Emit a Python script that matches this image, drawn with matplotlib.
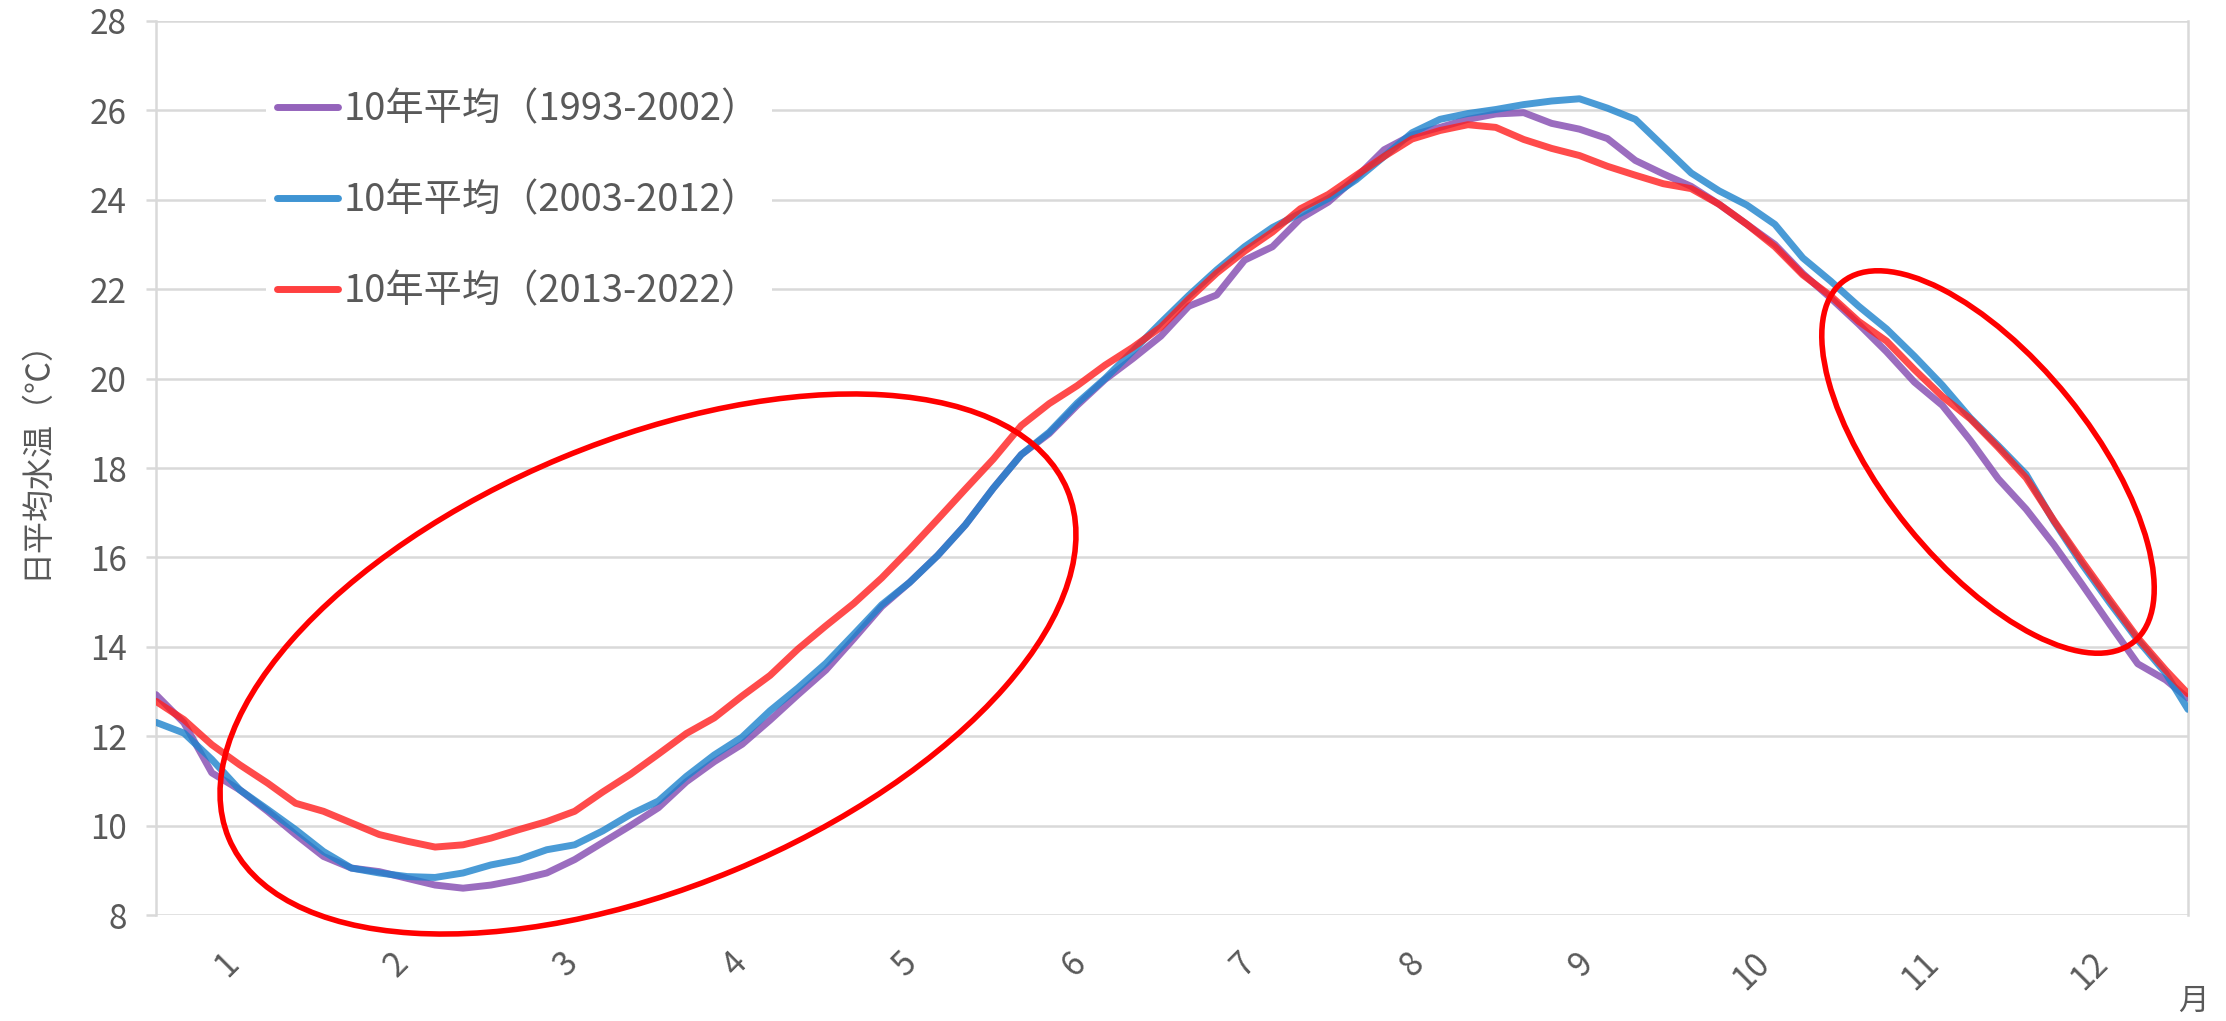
import numpy as np
import matplotlib
matplotlib.use("Agg")
import matplotlib.pyplot as plt
from matplotlib.patches import Ellipse

plt.rcParams['font.family'] = ['Noto Sans CJK JP', 'DejaVu Sans']

# ---------------- data ----------------
days = [0, 5, 10, 15, 20, 25, 30, 35, 40, 45, 50, 55, 60, 65, 70, 75, 80, 85, 90, 95,
        100, 105, 110, 115, 120, 125, 130, 135, 140, 145, 150, 155, 160, 165, 170, 175,
        180, 185, 190, 195, 200, 205, 210, 215, 220, 225, 230, 235, 240, 245, 250, 255,
        260, 265, 270, 275, 280, 285, 290, 295, 300, 305, 310, 315, 320, 325, 330, 335,
        340, 345, 350, 355, 360, 364]

temp_1993_2002 = [12.93, 12.30, 11.18, 10.80, 10.32, 9.80, 9.31, 9.05, 8.97, 8.82,
                  8.67, 8.60, 8.67, 8.79, 8.94, 9.24, 9.62, 10.00, 10.40, 10.98,
                  11.43, 11.82, 12.36, 12.93, 13.48, 14.18, 14.90, 15.44, 16.04, 16.73,
                  17.55, 18.30, 18.77, 19.40, 19.98, 20.45, 20.95, 21.62, 21.87, 22.65,
                  22.95, 23.58, 23.95, 24.50, 25.12, 25.45, 25.62, 25.80, 25.92, 25.95,
                  25.71, 25.58, 25.37, 24.88, 24.58, 24.30, 23.90, 23.45, 23.00, 22.35,
                  21.80, 21.22, 20.60, 19.92, 19.40, 18.62, 17.76, 17.08, 16.28, 15.40,
                  14.50, 13.62, 13.26, 12.85]

temp_2003_2012 = [12.31, 12.07, 11.48, 10.80, 10.36, 9.91, 9.42, 9.05, 8.94, 8.86,
                  8.84, 8.94, 9.12, 9.24, 9.46, 9.57, 9.88, 10.25, 10.55, 11.10,
                  11.58, 11.98, 12.57, 13.08, 13.63, 14.28, 14.94, 15.44, 16.04, 16.73,
                  17.55, 18.30, 18.80, 19.45, 20.00, 20.62, 21.25, 21.86, 22.43, 22.95,
                  23.38, 23.70, 24.03, 24.45, 24.97, 25.50, 25.80, 25.93, 26.02, 26.13,
                  26.21, 26.26, 26.05, 25.80, 25.20, 24.60, 24.20, 23.88, 23.45, 22.70,
                  22.18, 21.62, 21.11, 20.50, 19.85, 19.12, 18.50, 17.86, 16.80, 15.85,
                  14.98, 14.15, 13.41, 12.60]

temp_2013_2022 = [12.78, 12.37, 11.81, 11.36, 10.95, 10.50, 10.32, 10.06, 9.80, 9.65,
                  9.52, 9.57, 9.72, 9.91, 10.09, 10.32, 10.75, 11.15, 11.60, 12.06,
                  12.41, 12.90, 13.36, 13.95, 14.47, 14.97, 15.54, 16.18, 16.85, 17.53,
                  18.20, 18.95, 19.44, 19.84, 20.30, 20.70, 21.15, 21.78, 22.36, 22.85,
                  23.28, 23.80, 24.12, 24.55, 24.97, 25.36, 25.55, 25.68, 25.62, 25.35,
                  25.15, 24.99, 24.75, 24.55, 24.36, 24.25, 23.90, 23.45, 22.95, 22.32,
                  21.85, 21.28, 20.84, 20.20, 19.60, 19.10, 18.46, 17.78, 16.82, 15.92,
                  15.05, 14.20, 13.48, 12.95]

series_labels = ['10年平均（1993-2002）', '10年平均（2003-2012）', '10年平均（2013-2022）']
month_labels = ['1', '2', '3', '4', '5', '6', '7', '8', '9', '10', '11', '12']
y_ticks = [8, 10, 12, 14, 16, 18, 20, 22, 24, 26, 28]
y_label = '日平均水温（℃）'
x_unit = '月'

# ---------------- style ----------------
W, H = 2226, 1021
colors = ['#8248B0', '#1D82CC', '#FF1E1E']
grid_c = '#D9D9D9'
text_c = '#595959'

fig = plt.figure(figsize=(W / 100, H / 100), dpi=100)
ax = fig.add_axes([156 / W, 1 - 915 / H, 2032 / W, 894 / H])

for vals, c, lab in zip([temp_1993_2002, temp_2003_2012, temp_2013_2022], colors, series_labels):
    ax.plot(days, vals, color=c, lw=5.0, alpha=0.8, label=lab,
            solid_joinstyle='round', solid_capstyle='round', zorder=3)

ax.set_xlim(0, 364)
ax.set_ylim(8, 28)
ax.set_yticks(y_ticks)
ax.grid(axis='y', color=grid_c, lw=1.8, zorder=0)
ax.set_axisbelow(True)
for s in ['top', 'bottom']:
    ax.spines[s].set_visible(False)
for s in ['left', 'right']:
    ax.spines[s].set_color(grid_c)
    ax.spines[s].set_linewidth(1.8)

ax.tick_params(axis='y', length=7, width=1.8, color=grid_c, pad=14,
               labelsize=24, labelcolor=text_c)
month_pos = (np.arange(12) + 0.42) * 364 / 12
ax.set_xticks(month_pos)
ax.set_xticklabels(month_labels, rotation=45, ha='center', va='top')
ax.tick_params(axis='x', length=0, pad=22, labelsize=24, labelcolor=text_c)

leg = ax.legend(loc='upper left', bbox_to_anchor=(0.054, 0.9355), frameon=True,
                facecolor='white', edgecolor='none', framealpha=1, fancybox=False,
                fontsize=27.5, handlelength=1.6, handletextpad=0.15, labelspacing=1.36,
                borderpad=0.3, borderaxespad=0, labelcolor=text_c)
for h in leg.get_lines():
    h.set_alpha(0.85)

fig.text(35 / W, 1 - 451 / H, y_label, rotation=90, ha='center', va='center',
         fontsize=23, color=text_c)
fig.text(2193 / W, 1 - 1001 / H, x_unit, ha='center', va='center',
         fontsize=22, color=text_c)

# annotation ellipses (in inches on the figure)
for (cx, cy, w, h, ang) in [(6.48, 3.57, 9.08, 4.47, 22.55),
                            (19.88, 5.59, 4.63, 2.06, -51.0)]:
    e = Ellipse((cx, cy), w, h, angle=ang, transform=fig.dpi_scale_trans,
                fill=False, edgecolor='#FF0000', lw=4.0, zorder=10)
    fig.add_artist(e)

fig.savefig('out.png', dpi=100)
